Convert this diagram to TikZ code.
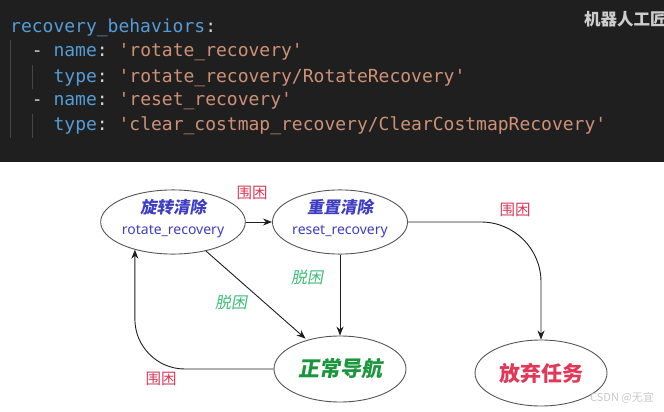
\documentclass[tikz,border=0pt]{standalone}
\usepackage{fontspec}
\setmainfont{Noto Sans}
\newfontfamily\cjk{Noto Sans CJK SC}
\newfontfamily\cjks{Noto Sans CJK SC}[FakeSlant=0.18]
\newfontfamily\codefont{DejaVu Sans Mono}
\usetikzlibrary{shapes.geometric,arrows.meta}
\definecolor{codebg}{RGB}{31,31,31}
\definecolor{keyc}{RGB}{86,156,214}
\definecolor{strc}{RGB}{206,145,120}
\definecolor{punc}{RGB}{212,212,212}
\definecolor{guidec}{RGB}{70,70,70}
\definecolor{wmc}{RGB}{205,205,205}
\definecolor{bluec}{RGB}{62,62,196}
\definecolor{greenc}{RGB}{28,150,60}
\definecolor{redc}{RGB}{226,56,88}
\definecolor{lblred}{RGB}{214,58,90}
\definecolor{lblgreen}{RGB}{64,188,122}
\definecolor{ellc}{RGB}{85,85,85}
\definecolor{linec}{RGB}{30,30,30}
\definecolor{csdnc}{RGB}{200,200,200}
\newcommand{\K}[1]{\textcolor{keyc}{#1}}
\newcommand{\Sq}[1]{\textcolor{strc}{#1}}
\newcommand{\Pc}[1]{\textcolor{punc}{#1}}
\begin{document}
\begin{tikzpicture}[x=1pt,y=-1pt,
  code/.style={anchor=base west, inner sep=0pt, font=\codefont\fontsize{18}{20}\selectfont\frenchspacing},
  guide/.style={draw=guidec, line width=0.8pt},
  ell/.style={draw=ellc, ellipse, line width=0.9pt, minimum width=132pt, minimum height=56pt, inner sep=0pt, align=center},
  arr/.style={-{Stealth[length=9pt,width=7pt]}, line width=0.9pt, draw=linec},
  lblr/.style={text=lblred, font=\cjk\fontsize{15.5}{15.5}\selectfont, inner sep=0pt},
  lblg/.style={text=lblgreen, font=\cjks\fontsize{16}{16}\selectfont, inner sep=0pt}
]
\useasboundingbox (0,0) rectangle (664,412);
\fill[codebg] (0,0) rectangle (664,162);
% indent guides
\draw[guide] (10,40) -- (10,138);
\draw[guide] (32,65) -- (32,89);
\draw[guide] (32,114) -- (32,138);
% code
\node[code] (c1) at (10,33) {\K{recovery\_behaviors}\Pc{:}};
\node[code] (c2) at (31.7,57) {\Pc{-} \K{name}\Pc{:} \Sq{'rotate\_recovery'}};
\node[code] (c3) at (53.4,82) {\K{type}\Pc{:} \Sq{'rotate\_recovery/RotateRecovery'}};
\node[code] (c4) at (31.7,106) {\Pc{-} \K{name}\Pc{:} \Sq{'reset\_recovery'}};
\node[code] (c5) at (53.4,130) {\K{type}\Pc{:} \Sq{'clear\_costmap\_recovery/ClearCostmapRecovery'}};
% watermark
\node[anchor=west, inner sep=0pt, text=wmc, font=\cjk\bfseries\fontsize{16.5}{16.5}\selectfont] (wm) at (584,19) {机器人工匠};
% states
\node[ell, text depth=10pt, font=\fontsize{14}{21}\selectfont] (e1) at (173,222)
  {{\cjks\bfseries\fontsize{16.5}{21}\selectfont\color{bluec}旋转清除}\\[0pt]\textcolor{bluec}{rotate\_recovery}};
\node[ell, text depth=10pt, font=\fontsize{14}{21}\selectfont] (e2) at (340,222)
  {{\cjks\bfseries\fontsize{16.5}{21}\selectfont\color{bluec}重置清除}\\[0pt]\textcolor{bluec}{reset\_recovery}};
\node[ell, minimum height=66pt, text=greenc, font=\cjks\bfseries\fontsize{21}{21}\selectfont] (e3) at (340,369) {正常导航};
\node[ell, minimum height=66pt, text=redc, font=\cjk\bfseries\fontsize{21}{21}\selectfont] (e4) at (541,373) {放弃任务};
% transitions
\draw[arr] (e1.east) -- (e2.west);
\draw[arr] (e2.south) -- (e3.north);
\draw[arr, shorten >=2pt] (e1) -- (e3);
\draw[arr, rounded corners=50pt] (e3.west) -| (e1.216);
\draw[arr, rounded corners=60pt] (e2.east) -| (e4.north);
% labels
\node[lblr] (l1) at (252,193) {围困};
\node[lblr] (l2) at (515,210) {围困};
\node[lblr] (l3) at (161,379) {围困};
\node[lblg] (g1) at (307,277) {脱困};
\node[lblg] (g2) at (231,302) {脱困};
% csdn watermark
\node[inner sep=0pt, text=csdnc, font=\cjk\fontsize{11}{11}\selectfont] (cs) at (622,398) {CSDN @无宜};
\end{tikzpicture}
\end{document}
